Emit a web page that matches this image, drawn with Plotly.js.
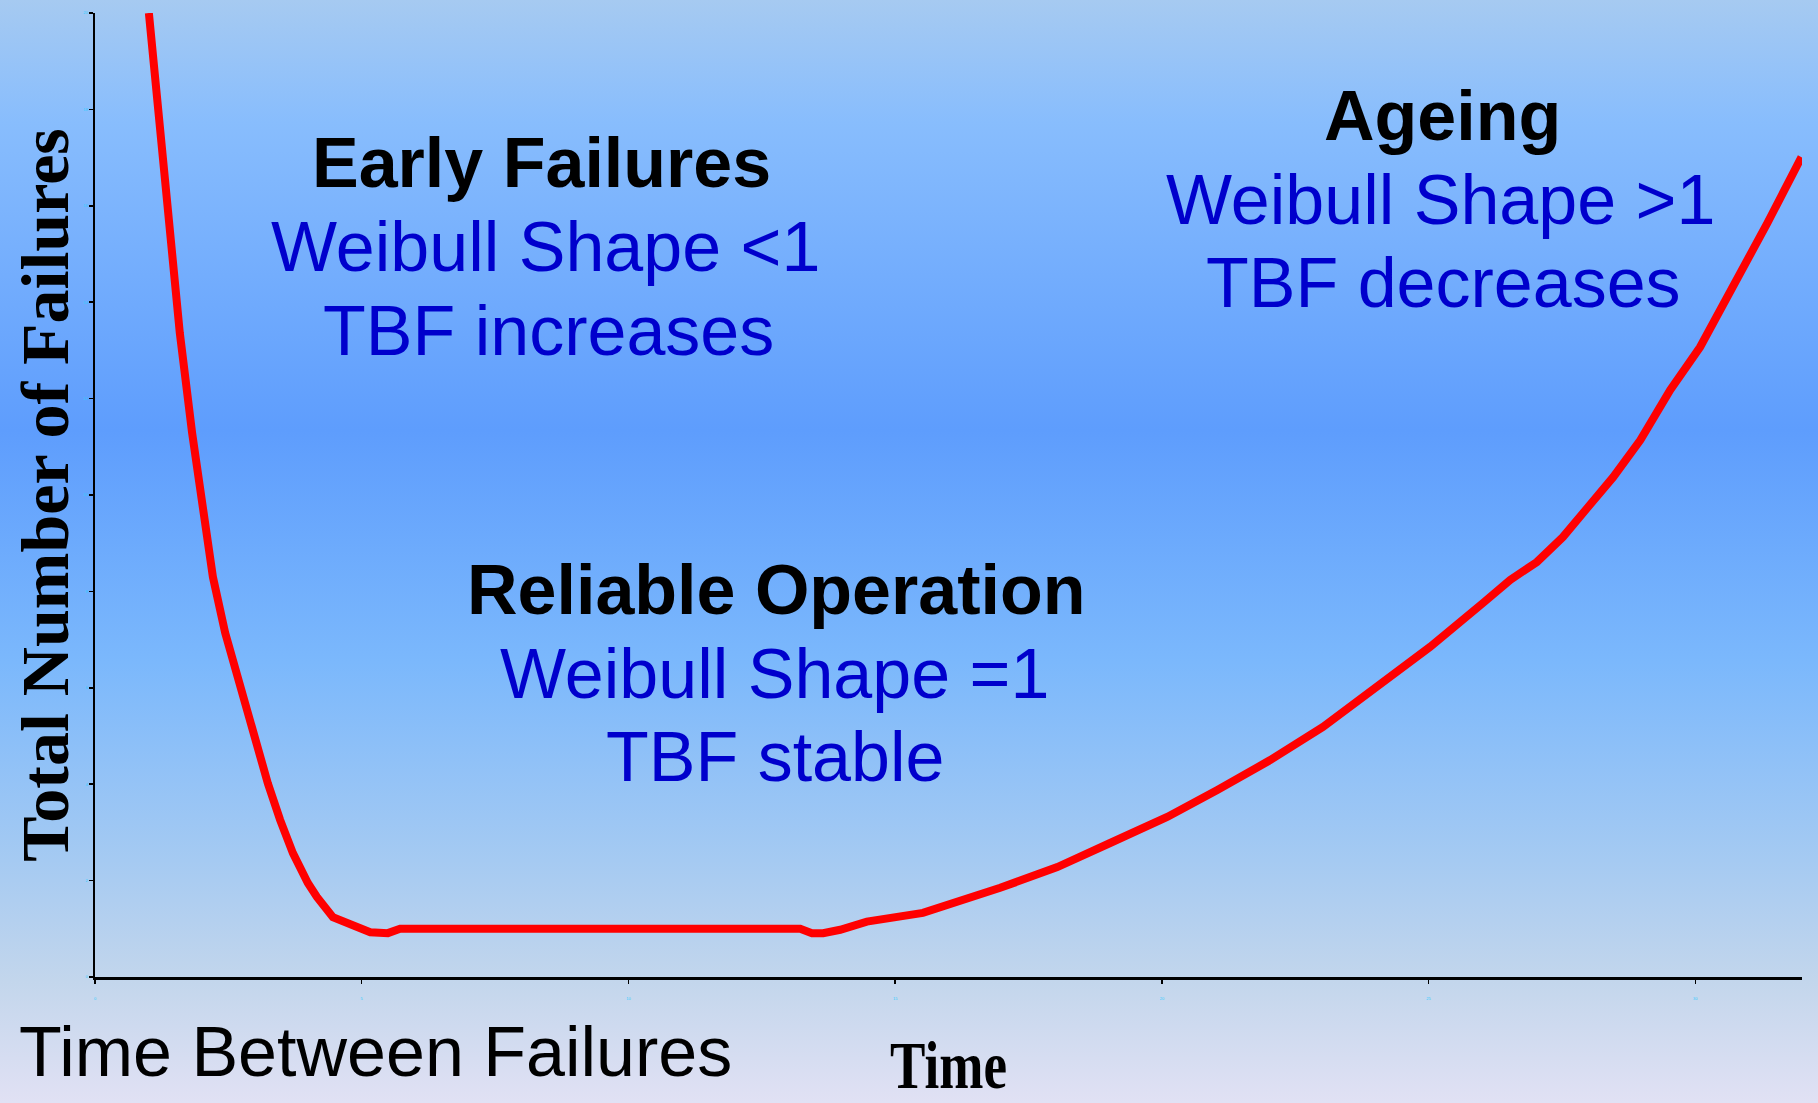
<!DOCTYPE html>
<html>
<head>
<meta charset="utf-8">
<script src="https://cdn.plot.ly/plotly-3.0.1.min.js"></script>
<style>
  html, body { margin: 0; padding: 0; }
  body {
    width: 1818px; height: 1103px; overflow: hidden;
    background: linear-gradient(to bottom, #a6caf1 0%, #88bdfd 11%, #5e9dfd 39%, #7bb8fc 60%, #a5caf2 78%, #c3d6ec 89%, #e1e1f4 100%);
  }
  #chart { width: 1818px; height: 1103px; }
</style>
</head>
<body>
<div id="chart"></div>
<script>
// Curve: time vs total number of failures (bathtub curve)
const timeValues = [1.01, 1.22, 1.41, 1.59, 1.82, 2.01, 2.09, 2.21, 2.44, 2.75, 2.96, 3.24, 3.47, 3.71, 3.99, 4.16, 4.46, 4.78, 5.16, 5.49, 5.72,
  13.22, 13.44, 13.65, 13.97, 14.47, 15.52, 16.97, 18.04, 19.03, 20.10, 21.04, 22.03, 23.02, 24.03, 25.03, 26.02, 26.53, 27.03, 27.52,
  27.99, 28.46, 28.97, 29.53, 30.09, 30.71, 31.35, 31.99];
const failureValues = [20.0, 17.51, 15.44, 13.36, 11.29, 9.96, 9.21, 8.30, 7.14, 5.89, 5.06, 4.02, 3.26, 2.57, 1.95, 1.66, 1.24, 1.08, 0.93, 0.91, 1.00,
  1.00, 0.91, 0.91, 0.98, 1.15, 1.33, 1.85, 2.28, 2.78, 3.32, 3.88, 4.50, 5.19, 6.02, 6.85, 7.76, 8.24, 8.61, 9.13,
  9.75, 10.37, 11.14, 12.18, 13.07, 14.32, 15.64, 17.01];

const xTickValues = [0, 5, 10, 15, 20, 25, 30];
const yTickValues = [0, 2, 4, 6, 8, 10, 12, 14, 16, 18, 20];

const xTitle = "Time";
const yTitle = "Total Number of Failures";

// Phase labels: [heading, shape line, TBF line]
const earlyLabels = ["Early Failures", "Weibull Shape <1", "TBF increases"];
const reliableLabels = ["Reliable Operation", "Weibull Shape =1", "TBF stable"];
const ageingLabels = ["Ageing", "Weibull Shape >1", "TBF decreases"];
const footerLabel = "Time Between Failures";

// layout helpers (pixel -> paper)
const L = 95, R = 1802, T = 13, B = 977;
const px = X => (X - L) / (R - L);
const py = Y => (B - Y) / (B - T);

const sans = "Liberation Sans, Arial, sans-serif";
const serif = "Liberation Serif, Times New Roman, serif";
const blue = "#0000CC";

function ann(text, X, Yc, bold, color, anchor) {
  return {
    text: bold ? "<b>" + text + "</b>" : text,
    xref: "paper", yref: "paper",
    x: px(X), y: py(Yc),
    xanchor: anchor || "center", yanchor: "middle",
    showarrow: false,
    font: { family: sans, size: 70, color: color }
  };
}

const annotations = [
  ann(earlyLabels[0], 541, 163, true, "#000000"),
  ann(earlyLabels[1], 545, 247.4, false, blue),
  ann(earlyLabels[2], 548, 331.4, false, blue),
  ann(ageingLabels[0], 1442, 115.7, true, "#000000"),
  ann(ageingLabels[1], 1440, 199.7, false, blue),
  ann(ageingLabels[2], 1443, 282.7, false, blue),
  ann(reliableLabels[0], 776, 590, true, "#000000"),
  ann(reliableLabels[1], 774, 674, false, blue),
  ann(reliableLabels[2], 775, 757.4, false, blue),
  ann(footerLabel, 17, 1052, false, "#000000", "left")
];

const trace = {
  x: timeValues, y: failureValues,
  type: "scatter", mode: "lines",
  line: { color: "#FF0000", width: 8 },
  cliponaxis: false,
  hoverinfo: "skip"
};

const layout = {
  width: 1818, height: 1103,
  margin: { l: L, r: 1818 - R, t: T, b: 1103 - B, pad: 0 },
  paper_bgcolor: "rgba(0,0,0,0)",
  plot_bgcolor: "rgba(0,0,0,0)",
  showlegend: false,
  xaxis: {
    range: [0, 32],
    tickvals: xTickValues,
    ticktext: xTickValues.map(String),
    showgrid: false, zeroline: false,
    showline: true, linecolor: "#000000", linewidth: 2.5,
    ticks: "outside", ticklen: 4, tickwidth: 1.5, tickcolor: "#000000",
    ticklabelstandoff: 12,
    tickfont: { family: sans, size: 4, color: "#33CCFF" },
    title: { text: "<b>" + xTitle + "</b>", font: { family: serif, size: 68, color: "#000000" } },
    fixedrange: true
  },
  yaxis: {
    range: [0, 20],
    tickvals: yTickValues,
    ticktext: yTickValues.map(String),
    showgrid: false, zeroline: false,
    showline: true, linecolor: "#000000", linewidth: 2.5,
    ticks: "outside", ticklen: 4, tickwidth: 1.5, tickcolor: "#000000",
    tickfont: { family: sans, size: 4, color: "#33CCFF" },
    title: { text: "<b>" + yTitle + "</b>", font: { family: serif, size: 68, color: "#000000" } },
    fixedrange: true
  },
  annotations: annotations
};

Plotly.newPlot("chart", [trace], layout, { displayModeBar: false, staticPlot: true }).then(gd => {
  // the reference's "Time" title is horizontally condensed
  const t = gd.querySelector(".xtitle");
  if (t) {
    const x = parseFloat(t.getAttribute("x"));
    const prev = t.getAttribute("transform") || "";
    t.setAttribute("transform", prev + ` translate(${x},0) scale(0.78,1) translate(${-x},0)`);
  }
  // nudge the y title slightly towards the axis, as in the reference
  const yt = gd.querySelector(".ytitle");
  if (yt) {
    const prev = yt.getAttribute("transform") || "";
    yt.setAttribute("transform", "translate(7,0) " + prev);
  }
});
</script>
</body>
</html>
